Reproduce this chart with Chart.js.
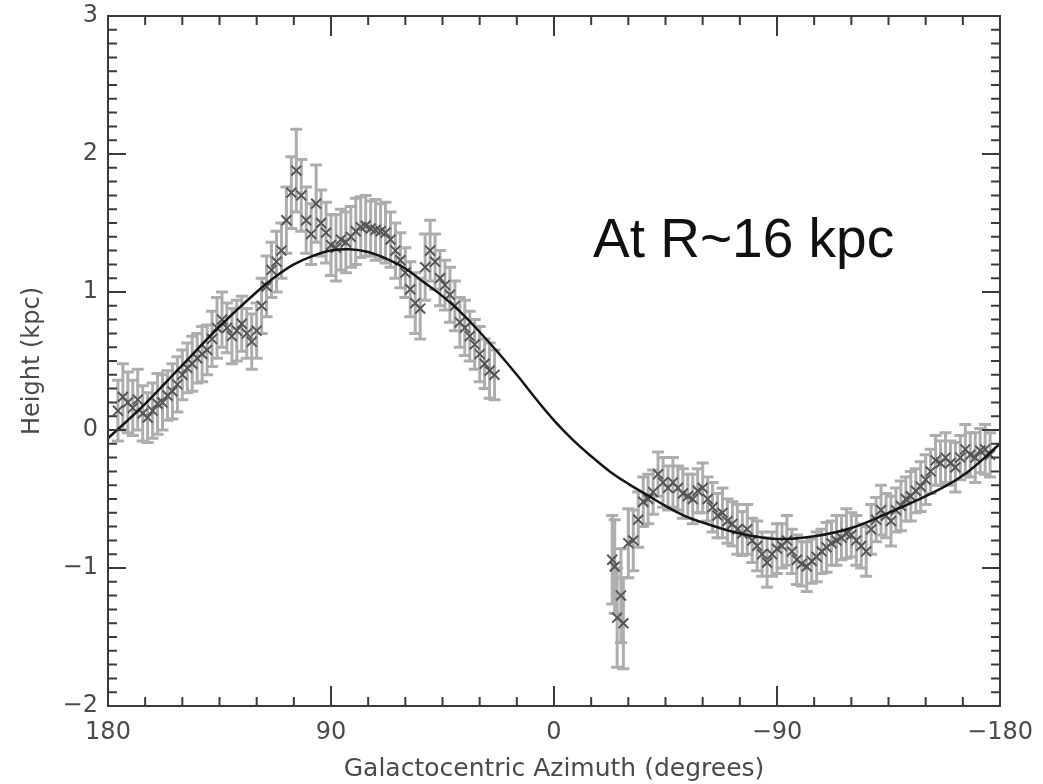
<!DOCTYPE html>
<html>
<head>
<meta charset="utf-8">
<script src="https://cdn.jsdelivr.net/npm/chart.js@4"></script>
<style>
  html, body { margin: 0; padding: 0; background: #fff; }
  .wrap { width: 1043px; height: 784px; position: relative; }
</style>
</head>
<body>
<div class="wrap"><canvas id="chart"></canvas></div>
<script>
// 데이터 (방위각, 높이, 오차) - 그림에서 읽은 값
const leftAzimuth = [176, 174, 172, 170, 168, 166, 164, 162, 160, 158, 156, 154, 152, 150, 148, 146, 144, 142, 140, 138,
  136, 134, 132, 130, 128, 126, 124, 122, 120, 118, 116, 114, 112, 110, 108, 106, 104, 102, 100, 98,
  96, 94, 92, 90, 88, 86, 84, 82, 80, 78, 76, 74, 72, 70, 68, 66, 64, 62, 60, 58,
  56, 54, 52, 50, 48, 46, 44, 42, 40, 38, 36, 34, 32, 30, 28, 26, 24]
const leftHeight = [0.14, 0.24, 0.20, 0.16, 0.22, 0.12, 0.09, 0.14, 0.19, 0.20, 0.25, 0.28, 0.33, 0.40, 0.45, 0.48, 0.52, 0.55, 0.58, 0.66,
  0.74, 0.80, 0.74, 0.68, 0.72, 0.77, 0.70, 0.64, 0.72, 0.90, 1.04, 1.16, 1.22, 1.30, 1.52, 1.72, 1.88, 1.70, 1.52, 1.42,
  1.64, 1.50, 1.43, 1.34, 1.32, 1.38, 1.36, 1.40, 1.44, 1.47, 1.48, 1.46, 1.45, 1.44, 1.43, 1.38, 1.30, 1.23, 1.14, 1.02,
  0.92, 0.88, 1.18, 1.30, 1.22, 1.10, 1.05, 0.98, 0.90, 0.78, 0.74, 0.68, 0.62, 0.55, 0.48, 0.43, 0.40]
const leftError = [0.22, 0.24, 0.22, 0.20, 0.22, 0.20, 0.18, 0.20, 0.22, 0.20, 0.18, 0.20, 0.20, 0.18, 0.18, 0.20, 0.18, 0.20, 0.18, 0.20,
  0.22, 0.20, 0.18, 0.20, 0.22, 0.20, 0.18, 0.20, 0.20, 0.20, 0.22, 0.20, 0.22, 0.20, 0.24, 0.26, 0.30, 0.26, 0.24, 0.22,
  0.28, 0.24, 0.22, 0.22, 0.24, 0.22, 0.22, 0.22, 0.24, 0.22, 0.22, 0.20, 0.22, 0.20, 0.22, 0.20, 0.20, 0.20, 0.18, 0.20,
  0.22, 0.22, 0.24, 0.22, 0.20, 0.20, 0.18, 0.20, 0.18, 0.18, 0.20, 0.18, 0.18, 0.20, 0.18, 0.20, 0.18]

const rightAzimuth = [-23.5, -24.5, -25.5, -27, -28, -30, -32, -34, -36, -38, -40, -42, -44, -46, -48, -50, -52, -54, -56, -58,
  -60, -62, -64, -66, -68, -70, -72, -74, -76, -78, -80, -82, -84, -86, -88, -90, -92, -94, -96, -98,
  -100, -102, -104, -106, -108, -110, -112, -114, -116, -118, -120, -122, -124, -126, -128, -130, -132, -134, -136, -138,
  -140, -142, -144, -146, -148, -150, -152, -154, -156, -158, -160, -162, -164, -166, -168, -170, -172, -174, -176]
const rightHeight = [-0.94, -0.99, -1.36, -1.20, -1.40, -0.82, -0.80, -0.65, -0.52, -0.50, -0.45, -0.32, -0.38, -0.42, -0.38, -0.42, -0.46, -0.48, -0.50, -0.44,
  -0.42, -0.50, -0.56, -0.62, -0.60, -0.66, -0.68, -0.72, -0.75, -0.72, -0.80, -0.84, -0.90, -0.96, -0.90, -0.86, -0.84, -0.80, -0.88, -0.94,
  -0.97, -0.99, -0.95, -0.92, -0.88, -0.85, -0.82, -0.80, -0.78, -0.75, -0.76, -0.80, -0.84, -0.88, -0.72, -0.65, -0.58, -0.62, -0.66, -0.58,
  -0.55, -0.50, -0.48, -0.44, -0.41, -0.36, -0.30, -0.22, -0.24, -0.20, -0.24, -0.27, -0.20, -0.14, -0.18, -0.20, -0.15, -0.14, -0.18]
const rightError = [0.32, 0.34, 0.36, 0.34, 0.33, 0.25, 0.22, 0.20, 0.18, 0.18, 0.16, 0.16, 0.18, 0.16, 0.18, 0.16, 0.18, 0.16, 0.18, 0.16,
  0.18, 0.16, 0.18, 0.16, 0.18, 0.16, 0.16, 0.18, 0.16, 0.18, 0.16, 0.18, 0.16, 0.18, 0.16, 0.18, 0.16, 0.18, 0.16, 0.18,
  0.16, 0.18, 0.16, 0.18, 0.16, 0.18, 0.16, 0.18, 0.16, 0.18, 0.16, 0.18, 0.16, 0.18, 0.18, 0.16, 0.18, 0.16, 0.18, 0.16,
  0.18, 0.16, 0.18, 0.16, 0.18, 0.18, 0.16, 0.18, 0.16, 0.18, 0.16, 0.18, 0.16, 0.18, 0.16, 0.18, 0.16, 0.18, 0.16]

// 피팅 곡선
const fitAzimuth = [180, 165, 150, 135, 120, 112.5, 105, 97.5, 90, 82.5, 75, 67.5, 60, 52.5, 45, 37.5, 30, 22.5, 15, 7.5, 0,
  -7.5, -15, -22.5, -30, -37.5, -45, -52.5, -60, -75, -90, -105, -120, -135, -150, -165, -180]
const fitHeight = [-0.06, 0.19, 0.47, 0.75, 1.00, 1.11, 1.20, 1.26, 1.30, 1.31, 1.29, 1.24, 1.17, 1.07, 0.97, 0.85, 0.71, 0.56, 0.40, 0.23, 0.07,
  -0.07, -0.19, -0.30, -0.39, -0.47, -0.55, -0.62, -0.67, -0.75, -0.79, -0.77, -0.71, -0.60, -0.48, -0.33, -0.10]

// 축 눈금
const xTickLabels = [180, 90, 0, -90, -180]
const yTickLabels = [-2, -1, 0, 1, 2, 3]

const points = leftAzimuth.map((a, i) => ({ x: a, y: leftHeight[i], e: leftError[i] }))
  .concat(rightAzimuth.map((a, i) => ({ x: a, y: rightHeight[i], e: rightError[i] })))
const fit = fitAzimuth.map((a, i) => ({ x: a, y: fitHeight[i] }))

const textColor = '#4a4a4a'

// 오차막대 그리기
const errorBars = {
  id: 'errorBars',
  beforeDatasetsDraw(chart) {
    const { ctx, scales: { x, y } } = chart
    ctx.save()
    ctx.strokeStyle = '#adadad'
    ctx.lineWidth = 3
    points.forEach(p => {
      const px = x.getPixelForValue(p.x)
      const top = y.getPixelForValue(p.y + p.e)
      const bot = y.getPixelForValue(p.y - p.e)
      ctx.beginPath()
      ctx.moveTo(px, top); ctx.lineTo(px, bot)
      ctx.moveTo(px - 6, top); ctx.lineTo(px + 6, top)
      ctx.moveTo(px - 6, bot); ctx.lineTo(px + 6, bot)
      ctx.stroke()
    })
    ctx.restore()
  }
}

// 테두리 + 안쪽 눈금
const frameTicks = {
  id: 'frameTicks',
  afterDatasetsDraw(chart) {
    const { ctx, chartArea: a, scales: { x, y } } = chart
    ctx.save()
    ctx.strokeStyle = '#3a3a3a'
    ctx.lineWidth = 2
    ctx.strokeRect(a.left, a.top, a.right - a.left, a.bottom - a.top)
    ctx.beginPath()
    for (let v = -180; v <= 180; v += 15) {
      const px = x.getPixelForValue(v)
      const len = v % 90 === 0 ? 20 : 9
      ctx.moveTo(px, a.bottom); ctx.lineTo(px, a.bottom - len)
      ctx.moveTo(px, a.top); ctx.lineTo(px, a.top + len)
    }
    for (let k = -20; k <= 30; k++) {
      const py = y.getPixelForValue(k / 10)
      const len = k % 10 === 0 ? 18 : 9
      ctx.moveTo(a.left, py); ctx.lineTo(a.left + len, py)
      ctx.moveTo(a.right, py); ctx.lineTo(a.right - len, py)
    }
    ctx.stroke()

    ctx.fillStyle = '#111'
    ctx.font = '55px "Liberation Sans", Arial, sans-serif'
    ctx.textBaseline = 'alphabetic'
    ctx.fillText('At R~16 kpc', a.left + 485, a.top + 241)
    ctx.restore()
  }
}

const config = {
  type: 'scatter',
  data: {
    datasets: [{
      type: 'line',
      label: 'fit',
      data: fit,
      borderColor: '#151515',
      borderWidth: 2.5,
      pointRadius: 0,
      tension: 0.4,
      fill: false,
      order: 0
    }, {
      label: 'data',
      data: points,
      pointStyle: 'crossRot',
      radius: 7,
      borderColor: '#555',
      borderWidth: 2,
      order: 1
    }]
  },
  options: {
    responsive: true,
    maintainAspectRatio: false,
    animation: false,
    layout: { padding: { top: 16, right: 43, left: 0, bottom: 0 } },
    plugins: { legend: { display: false }, tooltip: { enabled: false } },
    scales: {
      x: {
        type: 'linear',
        min: -180,
        max: 180,
        reverse: true,
        grid: { display: false, drawTicks: false },
        border: { display: false },
        afterBuildTicks: s => { s.ticks = xTickLabels.map(v => ({ value: v })) },
        afterFit: s => { s.height = 78; s.paddingLeft = 0; s.paddingRight = 0 },
        ticks: {
          padding: 12,
          color: textColor,
          maxRotation: 0,
          font: { family: '"DejaVu Sans", sans-serif', size: 24 },
          callback: v => String(v).replace('-', '\u2212')
        },
        title: {
          display: true,
          text: 'Galactocentric Azimuth (degrees)',
          color: textColor,
          padding: { top: 2, bottom: 0 },
          font: { family: '"DejaVu Sans", sans-serif', size: 25 }
        }
      },
      y: {
        type: 'linear',
        min: -2,
        max: 3,
        grid: { display: false, drawTicks: false },
        border: { display: false },
        afterBuildTicks: s => { s.ticks = yTickLabels.map(v => ({ value: v })) },
        afterFit: s => { s.width = 108; s.paddingTop = 0; s.paddingBottom = 0 },
        ticks: {
          padding: 10,
          color: textColor,
          font: { family: '"DejaVu Sans", sans-serif', size: 24 },
          callback: v => String(v).replace('-', '\u2212')
        },
        title: {
          display: true,
          text: 'Height (kpc)',
          color: textColor,
          padding: { top: 18, bottom: 0 },
          font: { family: '"DejaVu Sans", sans-serif', size: 24 }
        }
      }
    }
  },
  plugins: [errorBars, frameTicks]
}

let myChart = new Chart(document.getElementById('chart'), config)
</script>
</body>
</html>
